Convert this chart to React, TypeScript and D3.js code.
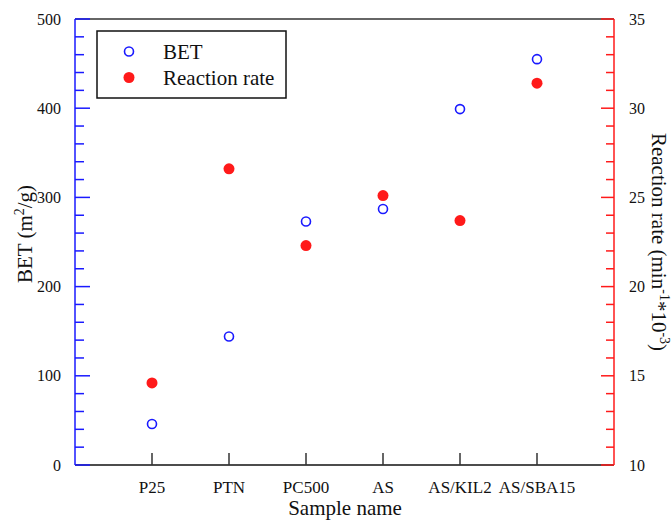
import React from "react";
import * as d3 from "d3";

const samples = ["P25", "PTN", "PC500", "AS", "AS/KIL2", "AS/SBA15"];
const betValues = [46, 144, 273, 287, 399, 455];
const rateValues = [14.6, 26.6, 22.3, 25.1, 23.7, 31.4];
const betTicks = [0, 100, 200, 300, 400, 500];
const rateTicks = [10, 15, 20, 25, 30, 35];

const W = 672;
const H = 523;
const M = { left: 75, right: 614, top: 19, bottom: 465 };
const BLUE = "#1a1aff";
const RED = "#ff1a1a";
const FONT = '"Liberation Serif", "Times New Roman", Times, serif';

export default function App() {
  const x = d3.scaleLinear().domain([0, samples.length + 1]).range([M.left, M.right]);
  const yL = d3.scaleLinear().domain([0, 500]).range([M.bottom, M.top]);
  const yR = d3.scaleLinear().domain([10, 35]).range([M.bottom, M.top]);
  const leftMinor = d3.range(0, 501, 20);
  const rightMinor = d3.range(10, 35.01, 1);

  return (
    <svg width={W} height={H} style={{ position: "absolute", left: 0, top: 0, fontFamily: FONT }}>
      <rect width={W} height={H} fill="#fff" />
      {/* frame: top and bottom in black */}
      <line x1={M.left} x2={M.right} y1={M.top} y2={M.top} stroke="#333" strokeWidth={1.5} />
      <line x1={M.left} x2={M.right} y1={M.bottom} y2={M.bottom} stroke="#111" strokeWidth={1.5} />

      {/* left axis (BET) */}
      <line x1={M.left} x2={M.left} y1={M.top} y2={M.bottom} stroke={BLUE} strokeWidth={1.5} />
      {leftMinor.map((v) => {
        const major = v % 100 === 0;
        return (
          <line key={"lt" + v} x1={M.left} x2={M.left + (major ? 15 : 9)} y1={yL(v)} y2={yL(v)} stroke={BLUE} strokeWidth={1.5} />
        );
      })}
      {betTicks.map((v) => (
        <text key={"ll" + v} x={61} y={yL(v)} dy="0.35em" textAnchor="end" fontSize={16} fill="#111">
          {v}
        </text>
      ))}

      {/* right axis (reaction rate) */}
      <line x1={M.right} x2={M.right} y1={M.top} y2={M.bottom} stroke={RED} strokeWidth={1.5} />
      {rightMinor.map((v) => {
        const major = Math.round(v) % 5 === 0;
        return (
          <line key={"rt" + v} x1={M.right} x2={M.right - (major ? 13 : 8)} y1={yR(v)} y2={yR(v)} stroke={RED} strokeWidth={1.5} />
        );
      })}
      {rateTicks.map((v) => (
        <text key={"rl" + v} x={629} y={yR(v)} dy="0.35em" textAnchor="start" fontSize={16} fill="#111">
          {v}
        </text>
      ))}

      {/* bottom axis categories */}
      {samples.map((s, i) => (
        <g key={s}>
          <line x1={x(i + 1)} x2={x(i + 1)} y1={M.bottom} y2={M.bottom - 12} stroke="#333" strokeWidth={1.5} />
          <text x={x(i + 1)} y={493} textAnchor="middle" fontSize={17} fill="#111">
            {s}
          </text>
        </g>
      ))}

      {/* axis titles */}
      <text x={345} y={515} textAnchor="middle" fontSize={21} fill="#111">
        Sample name
      </text>
      <text transform={`translate(32,234) rotate(-90)`} textAnchor="middle" fontSize={21} fill="#111">
        BET (m<tspan dy="-8" fontSize={14}>2</tspan>
        <tspan dy="8">/g)</tspan>
      </text>
      <text transform={`translate(652,242) rotate(90)`} textAnchor="middle" fontSize={21} fill="#111">
        Reaction rate (min<tspan dy="-8" fontSize={14}>-1</tspan>
        <tspan dy="8">*10</tspan>
        <tspan dy="-8" fontSize={14}>-3</tspan>
        <tspan dy="8">)</tspan>
      </text>

      {/* data */}
      {betValues.map((v, i) => (
        <circle key={"b" + i} cx={x(i + 1)} cy={yL(v)} r={4.5} fill="none" stroke={BLUE} strokeWidth={1.6} />
      ))}
      {rateValues.map((v, i) => (
        <circle key={"r" + i} cx={x(i + 1)} cy={yR(v)} r={5.5} fill={RED} />
      ))}

      {/* legend */}
      <rect x={97} y={31} width={189} height={67} fill="#fff" stroke="#111" strokeWidth={1.5} />
      <circle cx={129} cy={51.5} r={4.5} fill="none" stroke={BLUE} strokeWidth={1.6} />
      <circle cx={129} cy={77.5} r={5.5} fill={RED} />
      <text x={163} y={59} fontSize={21} fill="#111">
        BET
      </text>
      <text x={163} y={85} fontSize={21} fill="#111">
        Reaction rate
      </text>
    </svg>
  );
}
